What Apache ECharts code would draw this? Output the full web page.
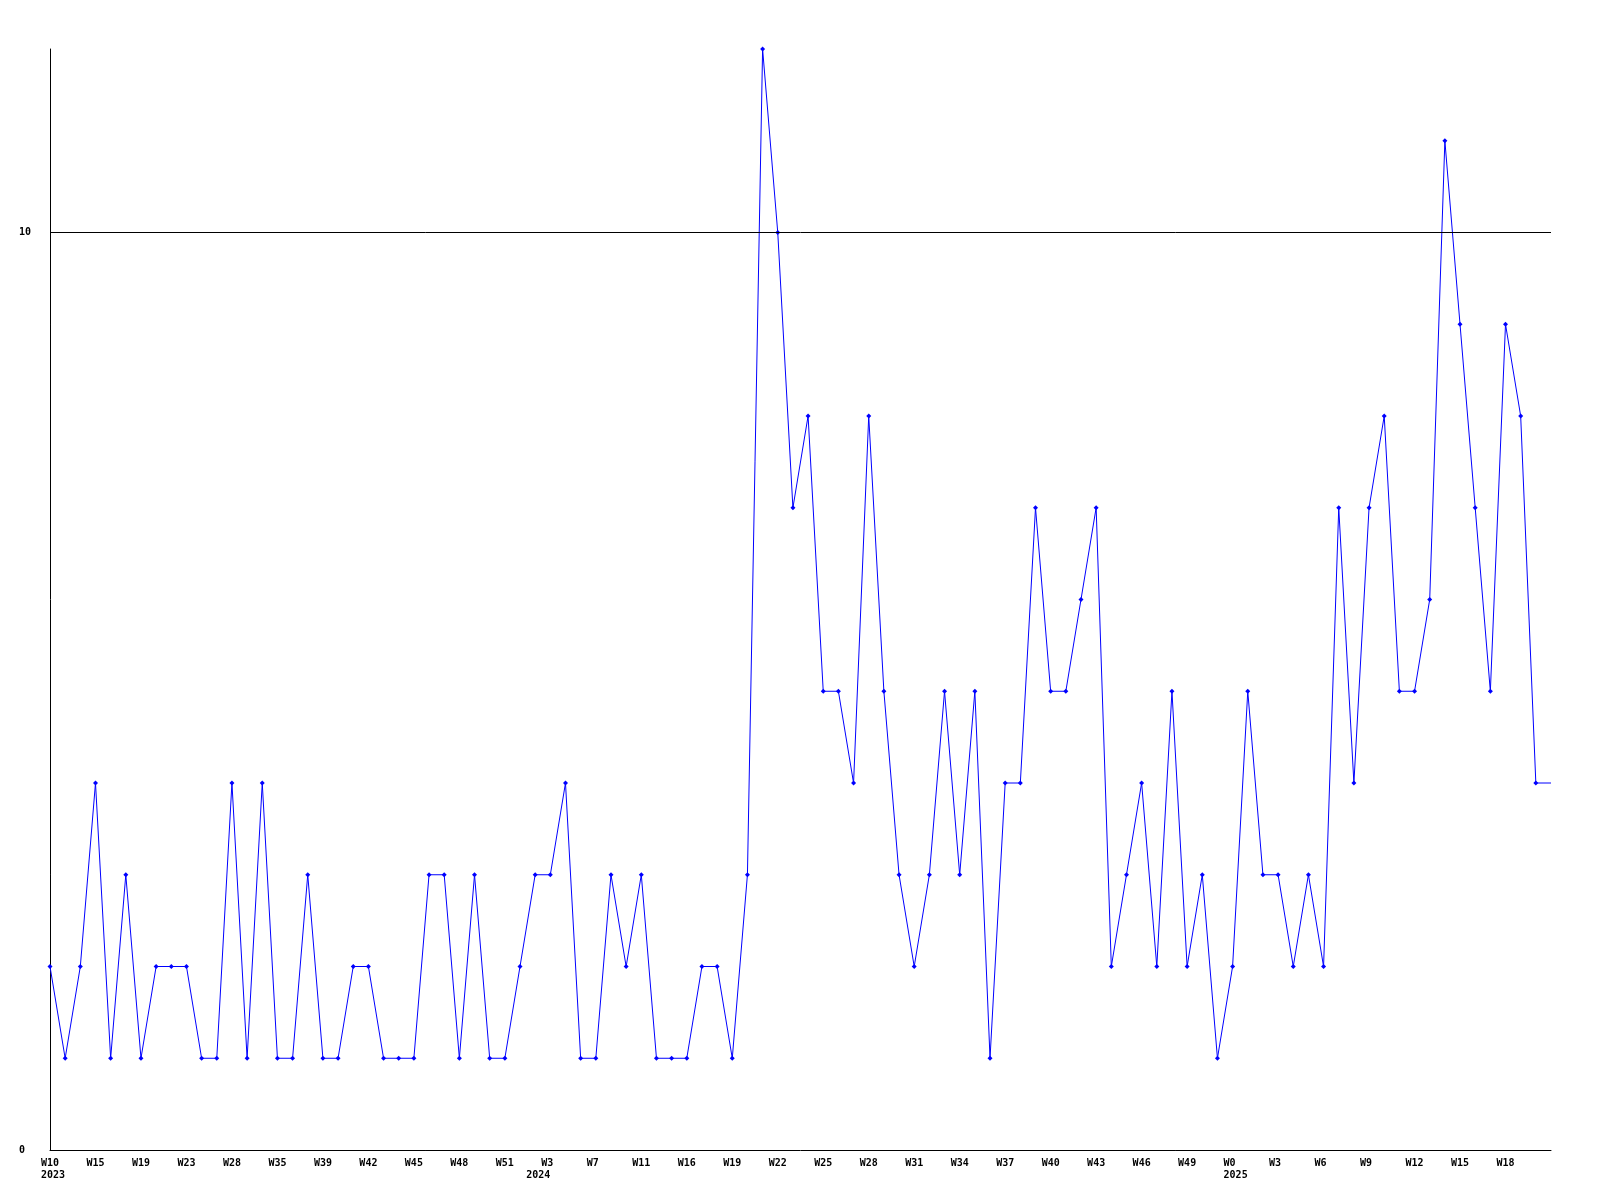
<!DOCTYPE html>
<html>
<head>
<meta charset="utf-8">
<script src="https://cdn.jsdelivr.net/npm/echarts@6/dist/echarts.min.js"></script>
<style>
  html, body { margin: 0; padding: 0; background: #fff; }
  #chart { width: 1600px; height: 1200px; }
</style>
</head>
<body>
<div id="chart"></div>
<script>
// Categories: year-week labels (one per data point)
const categories = [
  "2023-W10","2023-W12","2023-W13","2023-W15","2023-W16","2023-W17","2023-W19","2023-W20","2023-W21","2023-W23",
  "2023-W25","2023-W26","2023-W28","2023-W30","2023-W32","2023-W35","2023-W36","2023-W37","2023-W39","2023-W40",
  "2023-W41","2023-W42","2023-W43","2023-W44","2023-W45","2023-W46","2023-W47","2023-W48","2023-W49","2023-W50",
  "2023-W51","2023-W52","2024-W1","2024-W3","2024-W4","2024-W6","2024-W7","2024-W9","2024-W10","2024-W11",
  "2024-W13","2024-W14","2024-W16","2024-W17","2024-W18","2024-W19","2024-W20","2024-W21","2024-W22","2024-W23",
  "2024-W24","2024-W25","2024-W26","2024-W27","2024-W28","2024-W29","2024-W30","2024-W31","2024-W32","2024-W33",
  "2024-W34","2024-W35","2024-W36","2024-W37","2024-W38","2024-W39","2024-W40","2024-W41","2024-W42","2024-W43",
  "2024-W44","2024-W45","2024-W46","2024-W47","2024-W48","2024-W49","2024-W50","2024-W51","2025-W0","2025-W1",
  "2025-W2","2025-W3","2025-W4","2025-W5","2025-W6","2025-W7","2025-W8","2025-W9","2025-W10","2025-W11",
  "2025-W12","2025-W13","2025-W14","2025-W15","2025-W16","2025-W17","2025-W18","2025-W19","2025-W20","2025-W21"
];

// Weekly counts
const values = [
  2,1,2,4,1,3,1,2,2,2,
  1,1,4,1,4,1,1,3,1,1,
  2,2,1,1,1,3,3,1,3,1,
  1,2,3,3,4,1,1,3,2,3,
  1,1,1,2,2,1,3,12,10,7,
  8,5,5,4,8,5,3,2,3,5,
  3,5,1,4,4,7,5,5,6,7,
  2,3,4,2,5,2,3,1,2,5,
  3,3,2,3,2,7,4,7,8,5,
  5,6,11,9,7,5,9,8,4,4
];

// Y-axis tick labels and reference line
const yTickLabels = [0, 10];
const refLineValue = 10;

// Week labels every 3rd point (up to W18 of 2025); year labels at first point of each year
const weekLabelStep = 3;
const lastWeekLabelIndex = 96;
const yearLabelIndices = [0, 32, 78];

const seriesData = values.map((v, i) =>
  i === values.length - 1 ? { value: v, symbol: 'none' } : v
);

const chart = echarts.init(document.getElementById('chart'), null, { renderer: 'canvas' });
const fontFamily = '"DejaVu Sans Mono", "Liberation Mono", monospace';

function showsWeek(idx) { return idx % weekLabelStep === 0 && idx <= lastWeekLabelIndex; }
function showsYear(idx) { return yearLabelIndices.indexOf(idx) >= 0; }

chart.setOption({
  animation: false,
  backgroundColor: '#ffffff',
  grid: { left: 50, right: 49, top: 49, bottom: 50, containLabel: false },
  xAxis: {
    type: 'category',
    data: categories,
    boundaryGap: false,
    axisLine: { lineStyle: { color: '#000', width: 1 } },
    axisTick: { show: false },
    splitLine: { show: false },
    axisLabel: {
      interval: (idx) => showsWeek(idx) || showsYear(idx),
      hideOverlap: false,
      margin: 7,
      color: '#000',
      fontFamily: fontFamily,
      fontWeight: 'bold',
      fontSize: 10,
      lineHeight: 12.5,
      align: 'center',
      formatter: (val, idx) => {
        const parts = val.split('-');
        let s = showsWeek(idx) ? parts[1].padEnd(3, ' ') : ' ';
        if (showsYear(idx)) s += '\n ' + parts[0];
        return s;
      }
    }
  },
  yAxis: {
    type: 'value',
    min: 0,
    max: 12,
    interval: 10,
    axisLine: { show: true, lineStyle: { color: '#000', width: 1 } },
    axisTick: { show: false },
    splitLine: { show: false },
    axisLabel: {
      showMaxLabel: false,
      margin: 31,
      align: 'left',
      color: '#000',
      fontFamily: fontFamily,
      fontWeight: 'bold',
      fontSize: 10,
      formatter: (v) => (yTickLabels.indexOf(v) >= 0 ? String(v) : '')
    }
  },
  series: [{
    type: 'line',
    data: seriesData,
    smooth: false,
    symbol: 'diamond',
    symbolSize: 5,
    showSymbol: true,
    lineStyle: { color: '#0000ff', width: 1 },
    itemStyle: { color: '#0000ff' },
    emphasis: { disabled: true },
    markLine: {
      silent: true,
      symbol: 'none',
      label: { show: false },
      lineStyle: { color: '#000', width: 1, type: 'solid' },
      data: [{ yAxis: refLineValue }]
    }
  }]
});
</script>
</body>
</html>
